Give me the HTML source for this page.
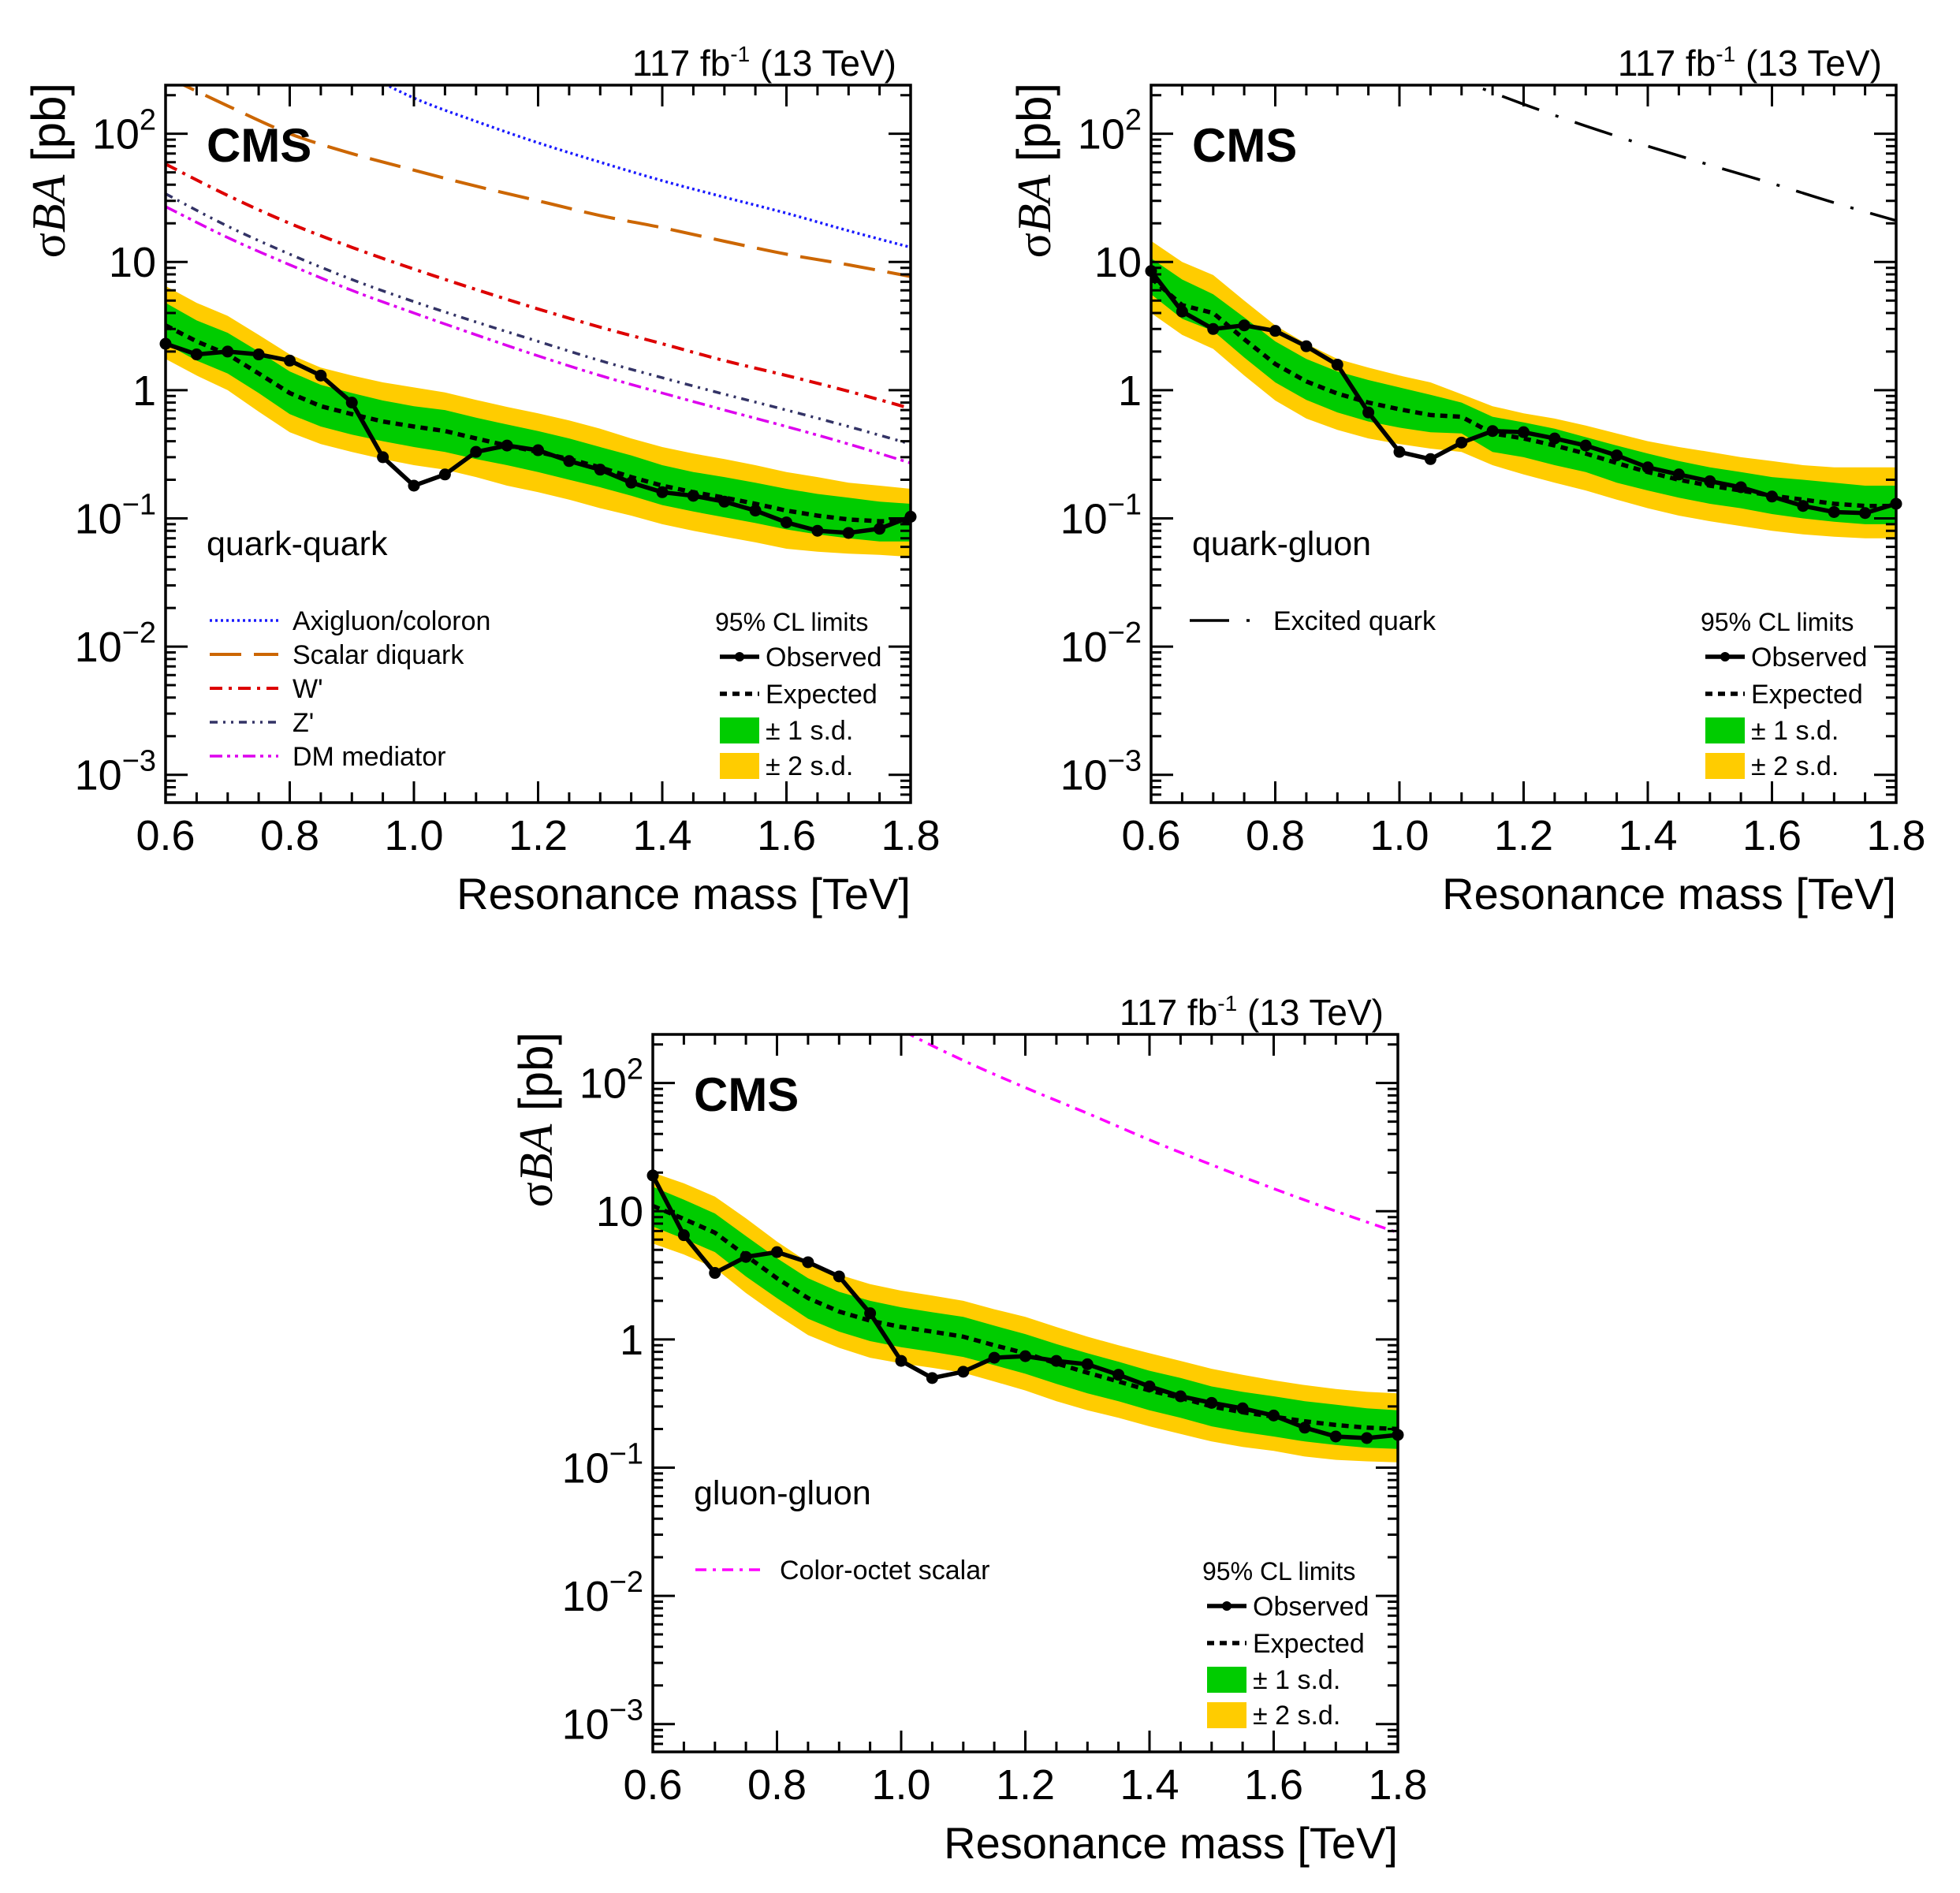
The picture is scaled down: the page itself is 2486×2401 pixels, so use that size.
<!DOCTYPE html>
<html><head><meta charset="utf-8"><style>
html,body{margin:0;padding:0;background:#fff;}
svg{display:block;font-family:"Liberation Sans",sans-serif;}
</style></head><body>
<svg id="chart" xmlns="http://www.w3.org/2000/svg" width="2486" height="2401" viewBox="0 0 2486 2401"></svg>
<script>
// ---- shared axis data ----
const masses = [0.6,0.65,0.7,0.75,0.8,0.85,0.9,0.95,1.0,1.05,1.1,1.15,1.2,1.25,1.3,1.35,1.4,1.45,1.5,1.55,1.6,1.65,1.7,1.75,1.8];
const theoryMasses = [0.6,0.7,0.8,0.9,1.0,1.1,1.2,1.3,1.4,1.5,1.6,1.7,1.8];
const xTickLabels = ["0.6","0.8","1.0","1.2","1.4","1.6","1.8"];
const yDecades = [-3,-2,-1,0,1,2];

// ---- quark-quark ----
const qqObserved = [2.3,1.9,2.0,1.9,1.7,1.3,0.8,0.3,0.18,0.22,0.33,0.37,0.34,0.28,0.24,0.19,0.16,0.15,0.135,0.115,0.093,0.08,0.077,0.083,0.103];
const qqExpected = [3.2,2.4,1.9,1.35,0.95,0.75,0.65,0.57,0.52,0.48,0.42,0.37,0.33,0.29,0.25,0.21,0.18,0.16,0.145,0.13,0.115,0.105,0.098,0.095,0.095];
const qqUp1 = [4.8,3.5,2.8,2.0,1.4,1.1,0.95,0.83,0.75,0.7,0.61,0.54,0.48,0.42,0.36,0.31,0.26,0.23,0.21,0.19,0.17,0.155,0.145,0.135,0.13];
const qqDn1 = [2.3,1.7,1.35,0.95,0.65,0.52,0.45,0.4,0.36,0.33,0.29,0.26,0.23,0.2,0.175,0.15,0.127,0.113,0.102,0.092,0.082,0.075,0.07,0.066,0.066];
const qqUp2 = [6.5,4.8,3.8,2.7,1.9,1.5,1.3,1.15,1.05,0.96,0.84,0.74,0.66,0.58,0.5,0.42,0.36,0.32,0.29,0.26,0.23,0.21,0.19,0.18,0.17];
const qqDn2 = [1.75,1.3,1.0,0.68,0.47,0.38,0.33,0.29,0.26,0.24,0.21,0.18,0.16,0.14,0.12,0.105,0.09,0.08,0.072,0.065,0.058,0.055,0.053,0.052,0.05];
const axigluon = [2000,1000,550,330,190,125,85,60,43,32,24,17.5,13];
const scalarDiquark = [280,165,100,70,52,39,30,23,18.5,14.5,11.5,9.5,7.7];
const wPrime = [58,33,20,13,8.8,6.1,4.3,3.1,2.3,1.7,1.3,0.98,0.72];
const zPrime = [34,19,11.5,7.3,4.9,3.4,2.4,1.7,1.25,0.93,0.7,0.52,0.38];
const dmMediator = [27,15.5,9.5,6,4,2.7,1.85,1.3,0.95,0.7,0.52,0.38,0.27];

// ---- quark-gluon ----
const qgObserved = [8.5,4.1,3.0,3.2,2.9,2.2,1.58,0.67,0.33,0.29,0.39,0.48,0.47,0.42,0.37,0.31,0.25,0.22,0.195,0.175,0.148,0.125,0.112,0.11,0.13];
const qgExpected = [7.5,4.6,4.0,2.5,1.6,1.17,0.94,0.8,0.71,0.64,0.62,0.46,0.42,0.37,0.32,0.27,0.23,0.2,0.18,0.165,0.15,0.14,0.13,0.125,0.125];
const qgUp1 = [10.7,7.3,5.6,3.7,2.4,1.75,1.4,1.2,1.05,0.92,0.8,0.62,0.56,0.5,0.43,0.37,0.32,0.28,0.25,0.23,0.21,0.2,0.19,0.18,0.18];
const qgDn1 = [5.6,3.6,2.9,1.8,1.15,0.84,0.67,0.57,0.51,0.47,0.46,0.33,0.3,0.26,0.23,0.19,0.165,0.145,0.13,0.12,0.108,0.1,0.094,0.09,0.09];
const qgUp2 = [14.6,10,7.9,5.0,3.2,2.3,1.75,1.5,1.3,1.15,0.93,0.75,0.66,0.6,0.53,0.46,0.4,0.36,0.33,0.3,0.28,0.26,0.25,0.25,0.25];
const qgDn2 = [4.0,2.7,2.1,1.3,0.83,0.6,0.49,0.42,0.38,0.35,0.33,0.26,0.22,0.19,0.165,0.14,0.12,0.105,0.095,0.087,0.08,0.075,0.072,0.07,0.07];
const excitedQuark = [3500,2000,1100,650,400,260,170,115,80,57,41,29,21];

// ---- gluon-gluon ----
const ggObserved = [19,6.5,3.3,4.4,4.8,4.0,3.1,1.6,0.68,0.5,0.56,0.72,0.74,0.68,0.64,0.53,0.43,0.36,0.32,0.29,0.255,0.205,0.175,0.17,0.18];
const ggExpected = [11,8.7,6.8,4.5,3.0,2.1,1.65,1.4,1.25,1.15,1.05,0.9,0.78,0.65,0.55,0.47,0.4,0.35,0.3,0.27,0.25,0.23,0.215,0.205,0.2];
const ggUp1 = [15.5,12.3,9.6,6.4,4.3,3.0,2.35,2.0,1.78,1.63,1.5,1.28,1.1,0.92,0.78,0.67,0.57,0.5,0.43,0.39,0.36,0.33,0.31,0.29,0.28];
const ggDn1 = [7.6,6.1,4.8,3.1,2.1,1.45,1.15,0.97,0.87,0.8,0.73,0.63,0.54,0.45,0.38,0.33,0.28,0.245,0.21,0.19,0.175,0.16,0.15,0.143,0.14];
const ggUp2 = [20,16.5,13,8.8,5.8,4.0,3.2,2.7,2.4,2.2,2.0,1.72,1.5,1.25,1.05,0.9,0.78,0.68,0.59,0.53,0.48,0.44,0.41,0.39,0.38];
const ggDn2 = [5.6,4.6,3.6,2.3,1.55,1.08,0.86,0.72,0.65,0.6,0.55,0.47,0.4,0.33,0.28,0.245,0.21,0.183,0.16,0.145,0.135,0.122,0.115,0.112,0.11];
const colorOctet = [4000,2100,1100,500,260,150,92,58,36,23,15,10,6.8];

const NS = "http://www.w3.org/2000/svg";
const svg = document.getElementById("chart");
const W = 945, H = 910, LOGTOP = 2.379, LOGBOT = -3.217;

function mk(tag, attrs, parent){
  const e = document.createElementNS(NS, tag);
  for (const k in attrs) e.setAttribute(k, attrs[k]);
  parent.appendChild(e);
  return e;
}

function drawPanel(id, ox, oy, cfg){
  const xs = m => ox + (m - 0.6) / 1.2 * W;
  const ys = v => oy + (LOGTOP - Math.log10(v)) / (LOGTOP - LOGBOT) * H;
  const g = mk("g", {}, svg);
  
  
  const cp = mk("clipPath", {id: id + "-clip"}, g);
  mk("rect", {x: ox, y: oy, width: W, height: H}, cp);
  const plot = mk("g", {"clip-path": "url(#" + id + "-clip)"}, g);
  
  

  function band(up, dn, color, name){
    let d = "";
    masses.forEach((m,i) => { d += (i ? "L" : "M") + xs(m).toFixed(1) + "," + ys(up[i]).toFixed(1); });
    for (let i = masses.length - 1; i >= 0; i--) d += "L" + xs(masses[i]).toFixed(1) + "," + ys(dn[i]).toFixed(1);
    const p = mk("path", {d: d + "Z", fill: color, stroke: "none"}, plot);
    
    
  }
  band(cfg.up2, cfg.dn2, "#ffcc00", id + "-band-2sd");
  band(cfg.up1, cfg.dn1, "#00cc00", id + "-band-1sd");

  cfg.theory.forEach(t => {
    const pts = theoryMasses.map((m,i) => [xs(m), ys(t.vals[i])]);
    let d = "M" + pts[0][0].toFixed(1) + "," + pts[0][1].toFixed(1);
    for (let i = 0; i < pts.length - 1; i++){
      const p0 = pts[Math.max(0,i-1)], p1 = pts[i], p2 = pts[i+1], p3 = pts[Math.min(pts.length-1,i+2)];
      const c1 = [p1[0] + (p2[0]-p0[0])/6, p1[1] + (p2[1]-p0[1])/6];
      const c2 = [p2[0] - (p3[0]-p1[0])/6, p2[1] - (p3[1]-p1[1])/6];
      d += "C" + c1[0].toFixed(1) + "," + c1[1].toFixed(1) + " " + c2[0].toFixed(1) + "," + c2[1].toFixed(1) + " " + p2[0].toFixed(1) + "," + p2[1].toFixed(1);
    }
    const p = mk("path", {d: d, fill: "none", stroke: t.color, "stroke-width": t.w, "stroke-dasharray": t.dash}, plot);
    
    
  });

  const ep = mk("polyline", {points: masses.map((m,i) => xs(m).toFixed(1) + "," + ys(cfg.exp[i]).toFixed(1)).join(" "),
    fill: "none", stroke: "#000", "stroke-width": 5.5, "stroke-dasharray": "9,7"}, plot);
  
  
  const op = mk("polyline", {points: masses.map((m,i) => xs(m).toFixed(1) + "," + ys(cfg.obs[i]).toFixed(1)).join(" "),
    fill: "none", stroke: "#000", "stroke-width": 5.5}, g);
  
  
  masses.forEach((m,i) => {
    const c = mk("circle", {cx: xs(m), cy: ys(cfg.obs[i]), r: 7.5, fill: "#000"}, g);
    
    
  });

  const fr = mk("rect", {x: ox, y: oy, width: W, height: H, fill: "none", stroke: "#000", "stroke-width": 3.5}, g);
  
  

  let td = "";
  for (let k = 0; k <= 24; k++){
    const m = 0.6 + k * 0.05, x = xs(m), L = (k % 4 === 0) ? 27 : 13;
    td += "M" + x.toFixed(1) + "," + (oy+H) + "v" + (-L) + "M" + x.toFixed(1) + "," + oy + "v" + L;
  }
  for (let e = -4; e <= 2; e++){
    for (let j = 1; j <= 9; j++){
      const v = j * Math.pow(10, e), lv = Math.log10(v);
      if (lv < LOGBOT || lv > LOGTOP) continue;
      const y = ys(v), L = (j === 1) ? 28 : 13;
      td += "M" + ox + "," + y.toFixed(1) + "h" + L + "M" + (ox+W) + "," + y.toFixed(1) + "h" + (-L);
    }
  }
  const tk = mk("path", {d: td, stroke: "#000", "stroke-width": 3, fill: "none"}, g);
  
  

  xTickLabels.forEach(s => {
    const t = mk("text", {x: xs(parseFloat(s)), y: oy + 970, "text-anchor": "middle", "font-size": 54}, g);
    t.textContent = s;
    
    
  });
  yDecades.forEach(e => {
    const t = mk("text", {x: ox - 12, y: ys(Math.pow(10, e)) + 19, "text-anchor": "end", "font-size": 54}, g);
    if (e === 0) t.textContent = "1";
    else if (e === 1) t.textContent = "10";
    else {
      t.textContent = "10";
      const s = mk("tspan", {dy: -24, "font-size": 38}, t);
      s.textContent = (e < 0 ? "\u2212" : "") + Math.abs(e);
    }
    
    
  });

  const xt = mk("text", {x: ox + W, y: oy + 1045, "text-anchor": "end", "font-size": 56}, g);
  xt.textContent = "Resonance mass [TeV]";
  
  
  const yt = mk("text", {transform: "translate(" + (ox - 128) + "," + (oy - 3) + ") rotate(-90)", "text-anchor": "end", "font-size": 60}, g);
  const s1 = mk("tspan", {"font-family": "Liberation Serif, serif"}, yt); s1.textContent = "σ";
  const s2 = mk("tspan", {"font-family": "Liberation Serif, serif", "font-style": "italic"}, yt); s2.textContent = "BA";
  const s3 = mk("tspan", {}, yt); s3.textContent = " [pb]";
  
  

  const lum = mk("text", {x: ox + 927, y: oy - 12, "text-anchor": "end", "font-size": 46}, g);
  const l1 = mk("tspan", {}, lum); l1.textContent = "117 fb";
  const l2 = mk("tspan", {dy: -18, "font-size": 28}, lum); l2.textContent = "-1";
  const l3 = mk("tspan", {dy: 18}, lum); l3.textContent = " (13 TeV)";
  
  

  const cms = mk("text", {x: ox + 52, y: oy + 97, "font-size": 60, "font-weight": "bold"}, g);
  cms.textContent = "CMS";
  
  
  const proc = mk("text", {x: ox + 52, y: oy + 596, "font-size": 43}, g);
  proc.textContent = cfg.process;
  
  

  cfg.theory.forEach((t, i) => {
    const y = oy + 679 + i * 43;
    const ln = mk("line", {x1: ox + cfg.legX1, x2: ox + cfg.legX2, y1: y, y2: y, stroke: t.color, "stroke-width": t.w, "stroke-dasharray": t.dash}, g);
    
    
    const tx = mk("text", {x: ox + cfg.legTX, y: y + 12, "font-size": 34}, g);
    tx.textContent = t.label;
    
    
  });

  const lx = ox + 703;
  const h = mk("text", {x: ox + 697, y: oy + 692, "font-size": 32}, g);
  h.textContent = "95% CL limits";
  
  
  const ol = mk("line", {x1: lx, x2: lx + 50, y1: oy + 725, y2: oy + 725, stroke: "#000", "stroke-width": 5.5}, g);
  
  
  const oc = mk("circle", {cx: lx + 25, cy: oy + 725, r: 6, fill: "#000"}, g);
  
  
  const el = mk("line", {x1: lx, x2: lx + 50, y1: oy + 772, y2: oy + 772, stroke: "#000", "stroke-width": 5.5, "stroke-dasharray": "9,7"}, g);
  
  
  const b1 = mk("rect", {x: lx, y: oy + 802, width: 50, height: 33, fill: "#00cc00"}, g);
  
  
  const b2 = mk("rect", {x: lx, y: oy + 847, width: 50, height: 33, fill: "#ffcc00"}, g);
  
  
  [["Observed", 737, "legend-observed"], ["Expected", 784, "legend-expected"], ["\u00b1 1 s.d.", 830, "legend-1sd"], ["\u00b1 2 s.d.", 875, "legend-2sd"]].forEach(r => {
    const t = mk("text", {x: lx + 58, y: oy + r[1], "font-size": 34}, g);
    t.textContent = r[0];
    
    
  });
}

drawPanel("quark-quark", 210, 108, {
  obs: qqObserved, exp: qqExpected, up1: qqUp1, dn1: qqDn1, up2: qqUp2, dn2: qqDn2, process: "quark-quark",
  legX1: 56, legX2: 143, legTX: 161,
  theory: [
    {name: "axigluon", label: "Axigluon/coloron", vals: axigluon, color: "#1a1aff", w: 3.5, dash: "3,4"},
    {name: "scalar-diquark", label: "Scalar diquark", vals: scalarDiquark, color: "#cc6600", w: 4, dash: "40,16"},
    {name: "w-prime", label: "W'", vals: wPrime, color: "#dd0000", w: 4, dash: "16,8,4,8"},
    {name: "z-prime", label: "Z'", vals: zPrime, color: "#333366", w: 3.5, dash: "10,7,3,7,3,7"},
    {name: "dm-mediator", label: "DM mediator", vals: dmMediator, color: "#dd00ee", w: 3.5, dash: "16,6,4,6,4,6"}
  ]
});
drawPanel("quark-gluon", 1460, 108, {
  obs: qgObserved, exp: qgExpected, up1: qgUp1, dn1: qgDn1, up2: qgUp2, dn2: qgDn2, process: "quark-gluon",
  legX1: 49, legX2: 135, legTX: 155,
  theory: [
    {name: "excited-quark", label: "Excited quark", vals: excitedQuark, color: "#000000", w: 3.5, dash: "50,22,4,22"}
  ]
});
drawPanel("gluon-gluon", 828, 1312, {
  obs: ggObserved, exp: ggExpected, up1: ggUp1, dn1: ggDn1, up2: ggUp2, dn2: ggDn2, process: "gluon-gluon",
  legX1: 54, legX2: 142, legTX: 161,
  theory: [
    {name: "color-octet-scalar", label: "Color-octet scalar", vals: colorOctet, color: "#ff00ff", w: 3.5, dash: "14,8,4,8"}
  ]
});
</script>
</body></html>
